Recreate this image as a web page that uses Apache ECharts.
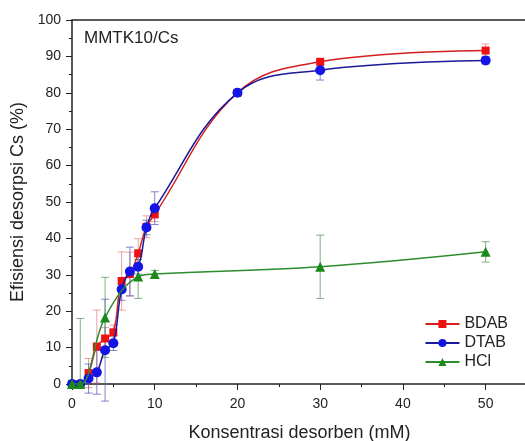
<!DOCTYPE html>
<html>
<head>
<meta charset="utf-8">
<script src="https://cdn.jsdelivr.net/npm/echarts@6/dist/echarts.min.js"></script>
<style>
  html, body { margin: 0; padding: 0; background: #fff; }
  #chart { width: 525px; height: 441px; }
</style>
</head>
<body>
<div id="chart"></div>
<script>
// desorption data (x = concentration in mM)
const bdabX = [0, 1, 2, 3, 4, 5, 6, 7, 8, 9, 10, 20, 30, 50]
const bdabY = [0, 0, 3.0, 10.3, 12.5, 14.2, 28.3, 30.2, 35.9, 43.2, 46.6, 80.0, 88.5, 91.6]
const bdabErr = [0, 0, 4, 10, 3, 2, 8, 6, 4, 3, 2, 0.5, 1, 1.8]

const dtabX = [0, 1, 2, 3, 4, 5, 6, 7, 8, 9, 10, 20, 30, 50]
const dtabY = [0, 0, 1.5, 3.2, 9.3, 11.2, 26.0, 30.9, 32.2, 43.0, 48.3, 80.0, 86.2, 88.9]
const dtabErr = [0, 0, 4, 6, 14, 2, 3, 6.7, 2, 2, 4.5, 0.5, 2.7, 1]

const hclX = [0, 1, 4, 8, 10, 30, 50]
const hclY = [0, 0, 18.3, 29.5, 30.2, 32.2, 36.3]
const hclErrLo = [0, 0, 11, 6, 1, 8.7, 2.8]
const hclErrHi = [0, 18, 11, 6, 1, 8.7, 2.8]

const xTicks = [0, 10, 20, 30, 40, 50]
const yTicks = [0, 10, 20, 30, 40, 50, 60, 70, 80, 90, 100]

const zip = (xs, ys) => xs.map((x, i) => [x, ys[i]])
const errData = (xs, ys, lo, hi) => xs.map((x, i) => [x, ys[i] - lo[i], ys[i] + hi[i]])

function errorBar (color) {
  return function (params, api) {
    const lo = api.coord([api.value(0), api.value(1)])
    const hi = api.coord([api.value(0), api.value(2)])
    const w = 4
    const style = { stroke: color, lineWidth: 1 }
    return {
      type: 'group',
      children: [
        { type: 'line', shape: { x1: lo[0], y1: lo[1], x2: hi[0], y2: hi[1] }, style },
        { type: 'line', shape: { x1: lo[0] - w, y1: lo[1], x2: lo[0] + w, y2: lo[1] }, style },
        { type: 'line', shape: { x1: hi[0] - w, y1: hi[1], x2: hi[0] + w, y2: hi[1] }, style }
      ]
    }
  }
}

const chart = echarts.init(document.getElementById('chart'))
const font = 'Liberation Sans, Arial, sans-serif'

chart.setOption({
  animation: false,
  textStyle: { fontFamily: font },
  grid: { left: 72, top: 20, right: -2, bottom: 57, outerBoundsMode: 'none', containLabel: false },
  title: {
    text: 'MMTK10/Cs',
    left: 79,
    top: 25,
    textStyle: { fontSize: 17, fontWeight: 'normal', color: '#222', fontFamily: font }
  },
  legend: {
    data: ['BDAB', 'DTAB', 'HCl'],
    orient: 'vertical',
    right: 12,
    top: 311,
    itemWidth: 34,
    itemHeight: 10,
    itemGap: 3,
    textStyle: { fontSize: 16, color: '#222', fontFamily: font }
  },
  xAxis: [{
    type: 'value',
    min: 0,
    max: 55,
    interval: 10,
    name: 'Konsentrasi desorben (mM)',
    nameLocation: 'middle',
    nameGap: 40,
    nameTextStyle: { fontSize: 18, color: '#222', fontFamily: font },
    axisLine: { lineStyle: { color: '#222', width: 1.5 } },
    axisTick: { inside: false, length: 6, lineStyle: { color: '#222' } },
    minorTick: { show: true, splitNumber: 2, length: 3, lineStyle: { color: '#222' } },
    axisLabel: { fontSize: 14, color: '#222', margin: 13, showMaxLabel: false,
      formatter: v => (xTicks.includes(v) ? String(v) : '') },
    splitLine: { show: false }
  }, {
    type: 'value',
    position: 'top',
    min: 0,
    max: 55,
    axisLine: { show: true, onZero: false, lineStyle: { color: '#222', width: 1.5 } },
    axisTick: { show: false },
    axisLabel: { show: false },
    splitLine: { show: false }
  }],
  yAxis: {
    type: 'value',
    min: 0,
    max: 100,
    interval: 10,
    name: 'Efisiensi desorpsi Cs (%)',
    nameLocation: 'middle',
    nameGap: 36,
    nameTextStyle: { fontSize: 18, color: '#222', fontFamily: font },
    axisLine: { show: true, lineStyle: { color: '#222', width: 1.5 } },
    axisTick: { inside: false, length: 6, lineStyle: { color: '#222' } },
    minorTick: { show: true, splitNumber: 2, length: 3, lineStyle: { color: '#222' } },
    axisLabel: { fontSize: 14, color: '#222', margin: 11,
      formatter: v => (yTicks.includes(v) ? String(v) : '') },
    splitLine: { show: false }
  },
  series: [
    {
      type: 'custom',
      renderItem: errorBar('rgba(230,120,120,0.7)'),
      data: errData(bdabX, bdabY, bdabErr, bdabErr),
      encode: { x: 0, y: [1, 2] },
      silent: true,
      z: 1
    },
    {
      type: 'custom',
      renderItem: errorBar('rgba(90,90,190,0.75)'),
      data: errData(dtabX, dtabY, dtabErr, dtabErr),
      encode: { x: 0, y: [1, 2] },
      silent: true,
      z: 1
    },
    {
      type: 'custom',
      renderItem: errorBar('rgba(90,150,90,0.75)'),
      data: errData(hclX, hclY, hclErrLo, hclErrHi),
      encode: { x: 0, y: [1, 2] },
      silent: true,
      z: 1
    },
    {
      name: 'BDAB',
      type: 'line',
      data: zip(bdabX, bdabY),
      smooth: 0.4,
      symbol: 'rect',
      symbolSize: 8,
      itemStyle: { color: '#ee1111' },
      lineStyle: { color: '#d42020', width: 1.5 },
      z: 3
    },
    {
      name: 'DTAB',
      type: 'line',
      data: zip(dtabX, dtabY),
      smooth: 0.4,
      symbol: 'circle',
      symbolSize: 10,
      itemStyle: { color: '#1414e6' },
      lineStyle: { color: '#1a1a9a', width: 1.5 },
      z: 4
    },
    {
      name: 'HCl',
      type: 'line',
      data: zip(hclX, hclY),
      smooth: 0.4,
      symbol: 'triangle',
      symbolSize: 10,
      itemStyle: { color: '#1b8a1b' },
      lineStyle: { color: '#2e8b2e', width: 1.5 },
      z: 5
    }
  ]
})
</script>
</body>
</html>
